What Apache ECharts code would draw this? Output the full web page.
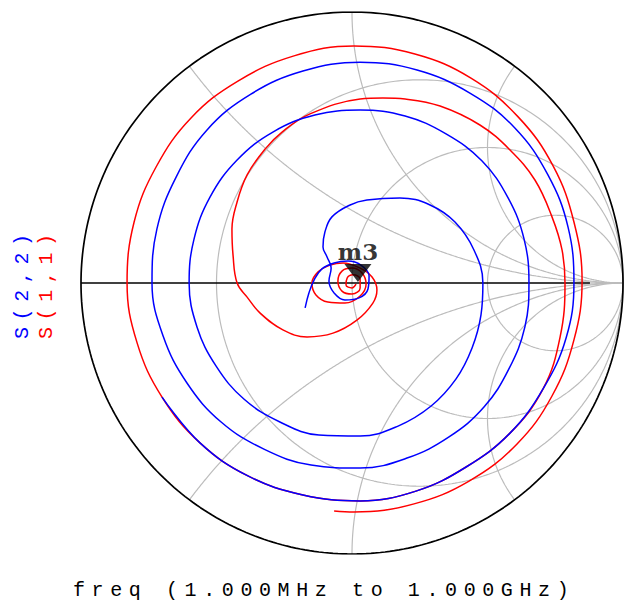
<!DOCTYPE html>
<html><head><meta charset="utf-8">
<script src="https://cdn.jsdelivr.net/npm/echarts@6/dist/echarts.min.js"></script>
<style>
html,body{margin:0;padding:0;background:#fff}
#c{width:626px;height:606px}
#c text[style*="Liberation Mono"]{letter-spacing:6.6px}
</style></head><body><div id="c"></div>
<script>
const s11Re = [0.015,0.000,-0.022,-0.018,0.004,0.030,0.030,0.000,-0.037,-0.052,-0.037,0.000,0.037,0.052,0.030,-0.026,-0.089,-0.133,-0.148,-0.125,-0.081,-0.033,0.030,0.074,0.092,0.077,0.018,-0.070,-0.166,-0.255,-0.339,-0.387,-0.424,-0.439,-0.443,-0.424,-0.387,-0.321,-0.258,-0.155,0.030,0.114,0.196,0.325,0.472,0.583,0.675,0.738,0.775,0.786,0.768,0.705,0.583,0.421,0.236,0.030,-0.181,-0.384,-0.561,-0.701,-0.793,-0.830,-0.804,-0.723,-0.594,-0.421,-0.214,0.007,0.232,0.439,0.613,0.742,0.819,0.849,0.819,0.738,0.609,0.432,0.229,0.007,-0.066];
const s11Im = [-0.004,-0.018,-0.007,0.018,0.030,0.015,-0.018,-0.041,-0.030,0.007,0.044,0.055,0.037,-0.004,-0.048,-0.074,-0.070,-0.044,0.000,0.041,0.066,0.074,0.055,0.022,-0.026,-0.074,-0.137,-0.185,-0.199,-0.173,-0.111,-0.052,0.000,0.103,0.199,0.299,0.399,0.494,0.557,0.624,0.679,0.683,0.679,0.653,0.583,0.491,0.380,0.244,0.122,0.000,-0.199,-0.391,-0.554,-0.679,-0.768,-0.804,-0.782,-0.712,-0.590,-0.421,-0.221,0.000,0.225,0.428,0.609,0.745,0.838,0.875,0.845,0.756,0.613,0.432,0.225,0.007,-0.210,-0.417,-0.594,-0.731,-0.815,-0.845,-0.841];
// S(2,2)
const s22Re = [-0.173,-0.159,-0.140,-0.111,-0.066,-0.015,0.033,0.063,0.059,0.026,-0.026,-0.066,-0.085,-0.077,-0.092,-0.107,-0.100,-0.074,-0.007,0.055,0.177,0.288,0.380,0.450,0.483,0.476,0.443,0.384,0.292,0.170,0.030,-0.122,-0.266,-0.399,-0.502,-0.572,-0.601,-0.583,-0.524,-0.424,-0.292,-0.137,0.030,0.196,0.347,0.480,0.576,0.635,0.653,0.638,0.579,0.487,0.358,0.203,0.030,-0.151,-0.325,-0.483,-0.609,-0.697,-0.738,-0.720,-0.649,-0.535,-0.373,-0.181,0.030,0.240,0.435,0.601,0.723,0.797,0.819,0.790,0.705,0.583,0.421,0.236,0.030,-0.181,-0.384,-0.561,-0.701];
const s22Im = [-0.092,-0.037,0.011,0.052,0.074,0.081,0.066,0.026,-0.022,-0.055,-0.063,-0.037,0.007,0.055,0.096,0.133,0.188,0.244,0.288,0.306,0.314,0.288,0.225,0.122,0.000,-0.118,-0.240,-0.354,-0.454,-0.528,-0.565,-0.561,-0.513,-0.428,-0.306,-0.162,0.000,0.162,0.317,0.454,0.557,0.620,0.638,0.616,0.550,0.450,0.314,0.162,0.000,-0.162,-0.317,-0.458,-0.568,-0.646,-0.683,-0.672,-0.613,-0.513,-0.369,-0.196,0.000,0.199,0.391,0.565,0.697,0.782,0.815,0.786,0.701,0.572,0.399,0.207,0.000,-0.203,-0.391,-0.554,-0.679,-0.768,-0.804,-0.782,-0.712,-0.590,-0.421];
// marker
const markerName = 'm3';
const markerRe = 0.022;
const markerIm = 0.004;
// Smith grid values
const resistanceCircles = [1/3, 1, 3];
const reactanceArcs = [0.5, 1, 2, -0.5, -1, -2];
// texts
const traceNames = ['S(1,1)', 'S(2,2)'];
const freqLabel = 'freq (1.000MHz to 1.000GHz)';

function zip(a, b) { const n = Math.min(a.length, b.length); const o = []; for (let i = 0; i < n; i++) o.push([a[i], b[i]]); return o; }
function rCircle(r) {
  const cx = r / (1 + r), rad = 1 / (1 + r), pts = [];
  for (let i = 0; i <= 360; i++) { const t = i * Math.PI / 180; pts.push([cx + rad * Math.cos(t), rad * Math.sin(t)]); }
  return pts;
}
function xArc(x) {
  const pts = [];
  for (let i = 0; i <= 400; i++) {
    const t = i / 400; const r = t >= 1 ? 1e6 : t / (1 - t) * 0.5;
    const a = r - 1, b = x, c = r + 1, d = x, den = c * c + d * d;
    pts.push([(a * c + b * d) / den, (b * c - a * d) / den]);
  }
  pts.push([1, 0]);
  return pts;
}
const gridColor = '#bcbcbc';
const series = [];
resistanceCircles.forEach(r => series.push({ type: 'line', data: rCircle(r), showSymbol: false, silent: true, z: 1, lineStyle: { color: gridColor, width: 1.2 } }));
reactanceArcs.forEach(x => series.push({ type: 'line', data: xArc(x), showSymbol: false, silent: true, z: 1, lineStyle: { color: gridColor, width: 1.2 } }));
series.push({ type: 'line', data: rCircle(0), showSymbol: false, silent: true, z: 2, lineStyle: { color: '#000', width: 1.7 } });
series.push({ type: 'line', data: [[-1, 0], [0.878, 0]], showSymbol: false, silent: true, z: 2, lineStyle: { color: '#000', width: 1.4 } });
series.push({ name: traceNames[0], type: 'line', data: zip(s11Re, s11Im), showSymbol: false, smooth: 0.4, z: 3, lineStyle: { color: '#ff0000', width: 1.5 } });
series.push({ name: traceNames[1], type: 'line', data: zip(s22Re, s22Im), showSymbol: false, smooth: 0.4, z: 4, lineStyle: { color: '#0000ff', width: 1.5 } });
series.push({ type: 'scatter', data: [[markerRe, markerIm]], z: 6, symbol: 'path://M0,0 L28,0 L14,19 Z', symbolSize: [27, 18], symbolOffset: [0, -9], itemStyle: { color: '#000' },
  label: { show: true, formatter: markerName, position: 'top', distance: 1, color: '#000', fontFamily: 'DejaVu Serif', fontWeight: 'bold', fontSize: 23 } });

const chart = echarts.init(document.getElementById('c'), null, { renderer: 'svg' });
chart.setOption({
  animation: false,
  backgroundColor: '#fff',
  grid: { left: 81, top: 12, width: 542, height: 542 },
  xAxis: { type: 'value', min: -1, max: 1, show: false },
  yAxis: { type: 'value', min: -1, max: 1, show: false },
  series: series,
  graphic: [
    { type: 'text', x: 22, y: 339, rotation: Math.PI / 2, style: { text: traceNames[1], font: '20px "Liberation Mono"', fill: '#0000ff', textAlign: 'left', textVerticalAlign: 'middle' } },
    { type: 'text', x: 46, y: 339, rotation: Math.PI / 2, style: { text: traceNames[0], font: '20px "Liberation Mono"', fill: '#ff0000', textAlign: 'left', textVerticalAlign: 'middle' } },
    { type: 'text', x: 73, y: 590, style: { text: freqLabel, font: '20px "Liberation Mono"', fill: '#000', textAlign: 'left', textVerticalAlign: 'middle' } }
  ]
});
</script></body></html>
